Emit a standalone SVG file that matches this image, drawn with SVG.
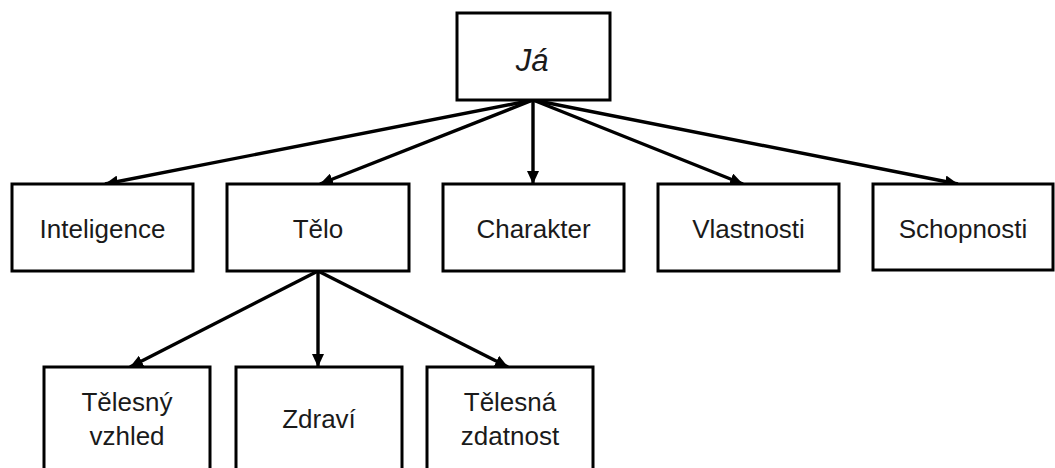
<svg xmlns="http://www.w3.org/2000/svg" width="1055" height="468" viewBox="0 0 1055 468">
<defs>
<style>
.box{fill:#fff;stroke:#000;stroke-width:3}
.t{font-family:"Liberation Sans",Arial,sans-serif;font-size:26px;fill:#1a1a1a;text-anchor:middle}
.it{font-style:italic;font-size:31px}
.c line{stroke:#000;stroke-width:3.4}
</style>
<marker id="ah" markerUnits="userSpaceOnUse" markerWidth="14" markerHeight="12" refX="13" refY="6" orient="auto">
<path d="M0,0 L13,6 L0,12 Z" fill="#000"/>
</marker>
</defs>
<rect width="1055" height="468" fill="#fff"/>
<g class="c" id="connectors">
<line x1="533" y1="100" x2="105" y2="184" marker-end="url(#ah)"/>
<line x1="533" y1="100" x2="320" y2="184" marker-end="url(#ah)"/>
<line x1="533" y1="100" x2="533" y2="184" marker-end="url(#ah)"/>
<line x1="533" y1="100" x2="743" y2="184" marker-end="url(#ah)"/>
<line x1="533" y1="100" x2="958" y2="184" marker-end="url(#ah)"/>
<line x1="318" y1="271" x2="130" y2="367" marker-end="url(#ah)"/>
<line x1="318" y1="271" x2="318" y2="367" marker-end="url(#ah)"/>
<line x1="318" y1="271" x2="508" y2="367" marker-end="url(#ah)"/>
</g>
<g id="ja"><rect class="box" x="457" y="13" width="153" height="87"/><text class="t it" x="532" y="71">Já</text></g>
<g id="inteligence"><rect class="box" x="12" y="184" width="181" height="87"/><text class="t" x="102.5" y="238">Inteligence</text></g>
<g id="telo"><rect class="box" x="227" y="184" width="182" height="87"/><text class="t" x="318" y="238">Tělo</text></g>
<g id="charakter"><rect class="box" x="443" y="184" width="181" height="87"/><text class="t" x="533.5" y="238">Charakter</text></g>
<g id="vlastnosti"><rect class="box" x="658" y="184" width="181" height="87"/><text class="t" x="748.5" y="238">Vlastnosti</text></g>
<g id="schopnosti"><rect class="box" x="873" y="184" width="180" height="86"/><text class="t" x="963" y="238">Schopnosti</text></g>
<g id="telesny-vzhled"><rect class="box" x="44" y="367" width="166" height="110"/><text class="t" x="127" y="411">Tělesný</text><text class="t" x="127" y="445">vzhled</text></g>
<g id="zdravi"><rect class="box" x="236" y="367" width="166" height="110"/><text class="t" x="319" y="428">Zdraví</text></g>
<g id="telesna-zdatnost"><rect class="box" x="427" y="367" width="166" height="110"/><text class="t" x="510" y="411">Tělesná</text><text class="t" x="510" y="445">zdatnost</text></g>
</svg>
